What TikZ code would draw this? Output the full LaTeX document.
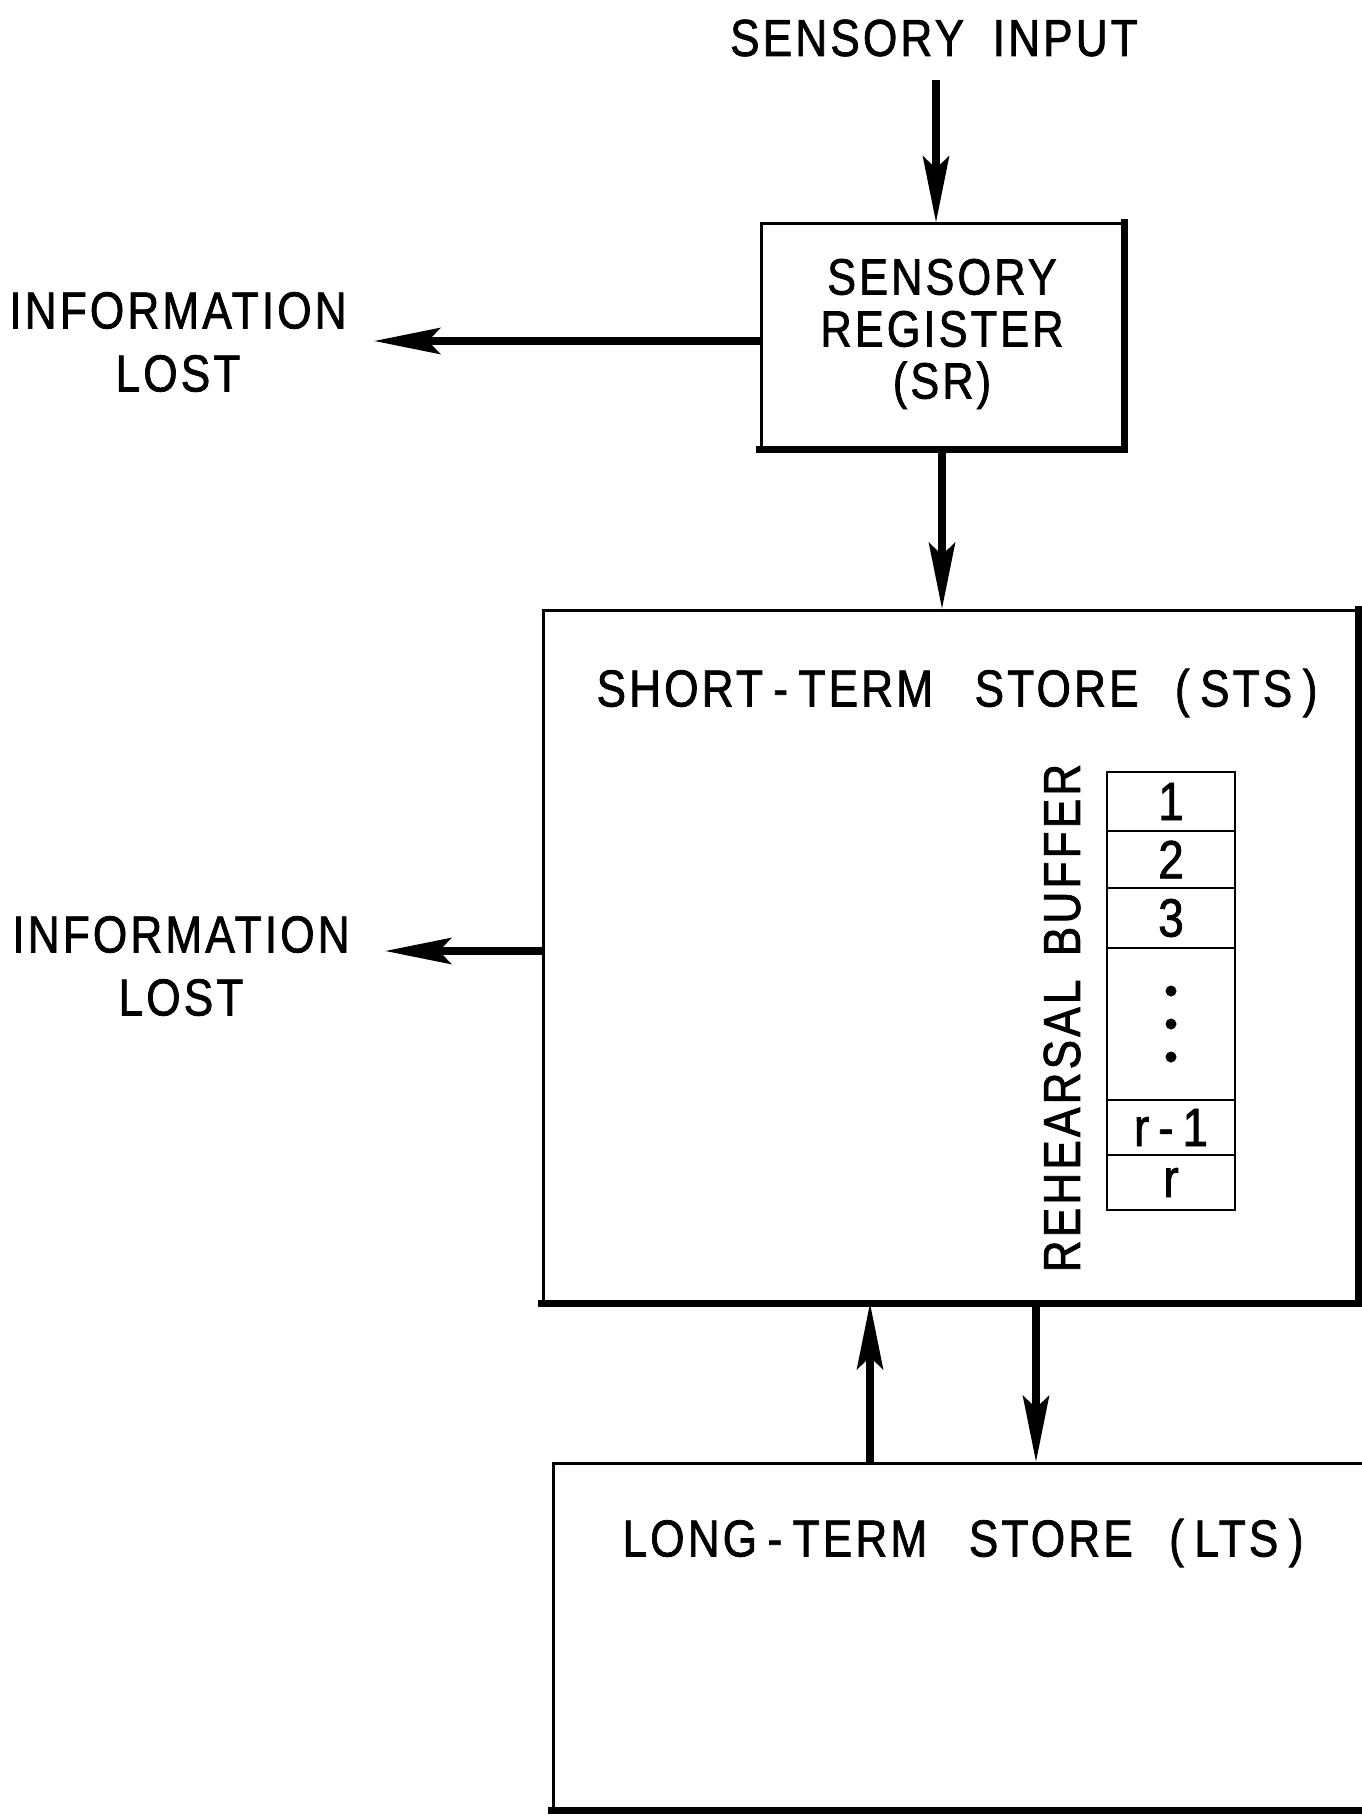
\documentclass[tikz,border=0pt]{standalone}
\usepackage{fontspec}
\setmainfont{Liberation Sans}[FakeStretch=0.85, FakeBold=1.4, LetterSpace=6, WordSpace=2]
\usetikzlibrary{arrows.meta}
\begin{document}
\begin{tikzpicture}[x=1pt,y=-1pt,
  lbl/.style={font=\fontsize{52}{63}\selectfont, align=center, inner sep=0pt},
  srlbl/.style={font=\fontsize{51}{52}\selectfont, align=center, inner sep=0pt},
  boxn/.style={draw, line width=3pt, inner sep=0pt},
  cell/.style={draw, line width=2.5pt, outer sep=0pt, minimum width=128pt, inner sep=0pt, font=\fontsize{54}{56}\selectfont},
  arr/.style={line width=7.5pt, -{Stealth[length=66pt,width=26pt,inset=12pt]}},
  edge/.style={line width=7pt, line cap=rect}
]
\useasboundingbox (0,0) rectangle (1361,1819);
\fill[white] (0,0) rectangle (1361,1819);

% boxes
\node[boxn, minimum width=362pt, minimum height=224pt] (sr) at (942,336) {};
\node[boxn, minimum width=814pt, minimum height=691pt] (sts) at (950,956) {};
\node[boxn, minimum width=830pt, minimum height=345pt] (lts) at (968,1636) {};
\draw[edge] (sr.south west) -- (sr.south east) -- (sr.north east);
\draw[edge] (sts.south west) -- (sts.south east) -- (sts.north east);
\draw[edge] (lts.south west) -- (lts.south east);

% texts
\node[lbl] (in) at (934,38) {SENSORY\hspace{0.55em}INPUT};
\node[srlbl] (srt) at (942,334) {SENSORY\\REGISTER\\(SR)};
\node[lbl] (info1) at (178,342) {INFORMATION\\LOST};
\node[lbl] (info2) at (181,966) {INFORMATION\\LOST};
\node[lbl] (ststitle) at (957,693) {SHORT\hspace{0.2em}-\hspace{0.2em}TERM\hspace{0.8em}STORE\hspace{0.7em}(\hspace{0.2em}STS\hspace{0.2em})};
\node[lbl] (ltstitle) at (963,1543) {LONG\hspace{0.2em}-\hspace{0.2em}TERM\hspace{0.8em}STORE\hspace{0.7em}(\hspace{0.2em}LTS\hspace{0.2em})};
\node[lbl, rotate=90] (rb) at (1062,1018) {REHEARSAL\hspace{0.45em}BUFFER};

% rehearsal buffer cells
\node[cell, minimum height=59pt] (c1) at (1171,801.5) {1};
\node[cell, minimum height=57pt, anchor=north] (c2) at (c1.south) {2};
\node[cell, minimum height=60pt, anchor=north] (c3) at (c2.south) {3};
\node[cell, minimum height=152pt, anchor=north] (cd) at (c3.south) {};
\node[cell, minimum height=55pt, anchor=north] (cr1) at (cd.south) {r\,-\,1};
\node[cell, minimum height=55pt, anchor=north] (cr) at (cr1.south) {r};
\foreach \dy in {-33,0,33} \fill ([yshift=-\dy pt]cd.center) circle (5.5pt);

% connectors
\coordinate (inA) at (936,80);
\draw[arr] (inA) -- (inA |- sr.north);
\coordinate (l1) at (374,341);
\draw[arr] (sr.west |- l1) -- (l1);
\draw[arr] (sr.south) -- (sr.south |- sts.north);
\coordinate (l2) at (385,951);
\draw[arr] (sts.west |- l2) -- (l2);
\coordinate (up) at (870,0);
\coordinate (dn) at (1036,0);
\draw[arr] (lts.north -| up) -- (sts.south -| up);
\draw[arr] (sts.south -| dn) -- (lts.north -| dn);
\end{tikzpicture}
\end{document}
